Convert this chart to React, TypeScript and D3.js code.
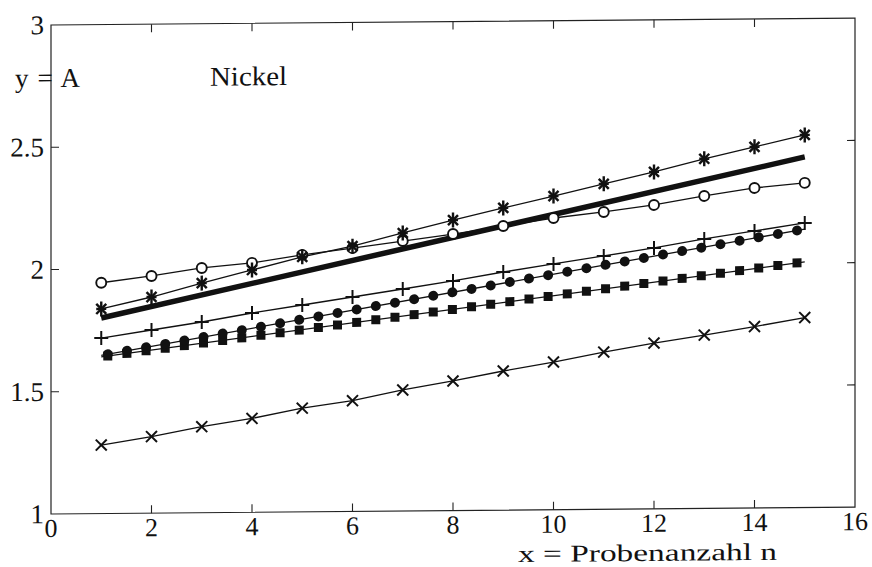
import React from "react";
import * as d3 from "d3";

// ---- data ----
const xValues = [1, 2, 3, 4, 5, 6, 7, 8, 9, 10, 11, 12, 13, 14, 15];
const asteriskValues = [1.837, 1.884, 1.939, 1.991, 2.043, 2.085, 2.137, 2.188, 2.236, 2.283, 2.331, 2.378, 2.43, 2.477, 2.524];
const openCircleValues = [1.944, 1.97, 2.001, 2.02, 2.051, 2.077, 2.104, 2.131, 2.162, 2.193, 2.216, 2.243, 2.278, 2.309, 2.328];
const plusValues = [1.718, 1.749, 1.78, 1.815, 1.846, 1.877, 1.908, 1.939, 1.974, 2.005, 2.036, 2.067, 2.102, 2.133, 2.164];
const crossValues = [1.28, 1.313, 1.352, 1.384, 1.424, 1.453, 1.495, 1.53, 1.569, 1.604, 1.643, 1.678, 1.709, 1.742, 1.777];
const fitLineX = [1, 15];
const fitLineValues = [1.8, 2.434];
const dotLineX = [1, 15];
const dotLineValues = [1.647, 2.139];
const squareLineX = [1, 15];
const squareLineValues = [1.641, 2.005];
const xTicks = [0, 2, 4, 6, 8, 10, 12, 14, 16];
const yTicks = [1, 1.5, 2, 2.5, 3];
const yTickLabels = ["1", "1.5", "2", "2.5", "3"];
const yLabel = "y = A";
const titleText = "Nickel";
const xLabel = "x = Probenanzahl n";

const W = 872;
const H = 567;
const L = 51, R = 855, T = 25, B = 514;
const FONT = "'Liberation Serif', 'Times New Roman', serif";
const INK = "#111";

export default function App() {
  const x = d3.scaleLinear().domain([0, 16]).range([L, R]);
  const y = d3.scaleLinear().domain([1, 3]).range([B, T]);
  const line = d3.line<[number, number]>().x((d) => x(d[0])).y((d) => y(d[1]));
  const pts = (xs: number[], ys: number[]) => xs.map((v, i) => [v, ys[i]] as [number, number]);

  const dotStep = 0.381; // spacing of the heavy dotted lines, in x units
  const dashFor = (xs: number[], ys: number[]) => {
    const dx = x(xs[1]) - x(xs[0]);
    const dy = y(ys[1]) - y(ys[0]);
    const factor = Math.sqrt(dx * dx + dy * dy) / dx;
    const period = (x(dotStep) - x(0)) * factor;
    const startOff = (x(1.13) - x(1)) * factor;
    return { dash: `0 ${period}`, offset: period - startOff };
  };
  const dotDash = dashFor(dotLineX, dotLineValues);
  const sqDash = dashFor(squareLineX, squareLineValues);

  const thin = { fill: "none", stroke: INK, strokeWidth: 1.3 };

  return (
    <svg width={W} height={H} style={{ position: "absolute", left: 0, top: 0, background: "#fff" }}>
      <rect width={W} height={H} fill="#fff" />
      <g transform={`translate(${L},0) skewY(-0.49) translate(${-L},0)`}>
        {/* axes box */}
        <rect x={L} y={T} width={R - L} height={B - T} fill="none" stroke="#222" strokeWidth={1.2} />
        {xTicks.slice(1, -1).map((t) => (
          <g key={"xt" + t}>
            <line x1={x(t)} x2={x(t)} y1={B} y2={B - 8} stroke="#222" strokeWidth={1.1} />
            <line x1={x(t)} x2={x(t)} y1={T} y2={T + 8} stroke="#222" strokeWidth={1.1} />
          </g>
        ))}
        {yTicks.slice(1, -1).map((t) => (
          <g key={"yt" + t}>
            <line x1={L} x2={L + 8} y1={y(t)} y2={y(t)} stroke="#222" strokeWidth={1.1} />
            <line x1={R} x2={R - 8} y1={y(t)} y2={y(t)} stroke="#222" strokeWidth={1.1} />
          </g>
        ))}
        {/* tick labels */}
        {xTicks.map((t) => (
          <text key={"xl" + t} x={x(t)} y={B + 23} textAnchor="middle" fontFamily={FONT} fontSize={26} fill={INK}>
            {String(t)}
          </text>
        ))}
        {yTicks.map((t, i) => (
          <text key={"yl" + t} x={L - 7} y={y(t) + 9} textAnchor="end" fontFamily={FONT} fontSize={27} fill={INK}>
            {yTickLabels[i]}
          </text>
        ))}
        <text x={15} y={87} fontFamily={FONT} fontSize={27} fill={INK} textLength={65} lengthAdjust="spacing">{yLabel}</text>
        <text x={210} y={87} fontFamily={FONT} fontSize={27} fill={INK} textLength={77} lengthAdjust="spacingAndGlyphs">{titleText}</text>
        <text x={518} y={B + 52} fontFamily={FONT} fontSize={24} fill={INK} textLength={259} lengthAdjust="spacingAndGlyphs">{xLabel}</text>

        {/* thin connecting lines */}
        <path d={line(pts(xValues, crossValues)) || ""} {...thin} />
        <path d={line(pts(xValues, plusValues)) || ""} {...thin} />
        <path d={line(pts(xValues, openCircleValues)) || ""} {...thin} />
        <path d={line(pts(xValues, asteriskValues)) || ""} {...thin} />
        <path d={line(pts(dotLineX, dotLineValues)) || ""} {...thin} />
        <path d={line(pts(squareLineX, squareLineValues)) || ""} {...thin} />

        {/* heavy dotted lines: squares and round dots */}
        <path
          d={line(pts(squareLineX, squareLineValues)) || ""}
          fill="none"
          stroke={INK}
          strokeWidth={9}
          strokeLinecap="square"
          strokeDasharray={sqDash.dash}
          strokeDashoffset={sqDash.offset}
        />
        <path
          d={line(pts(dotLineX, dotLineValues)) || ""}
          fill="none"
          stroke={INK}
          strokeWidth={10}
          strokeLinecap="round"
          strokeDasharray={dotDash.dash}
          strokeDashoffset={dotDash.offset}
        />

        {/* thick fit line */}
        <path d={line(pts(fitLineX, fitLineValues)) || ""} fill="none" stroke={INK} strokeWidth={5.5} />

        {/* markers */}
        {xValues.map((v, i) => (
          <circle key={"o" + i} cx={x(v)} cy={y(openCircleValues[i])} r={5} fill="#fff" stroke={INK} strokeWidth={1.9} />
        ))}
        {xValues.map((v, i) => {
          const cx = x(v), cy = y(asteriskValues[i]);
          return (
            <g key={"s" + i} stroke={INK} strokeWidth={2.4}>
              <line x1={cx} x2={cx} y1={cy - 7.5} y2={cy + 7.5} />
              <line x1={cx - 5} x2={cx + 5} y1={cy} y2={cy} />
              <line x1={cx - 5} x2={cx + 5} y1={cy - 5} y2={cy + 5} />
              <line x1={cx - 5} x2={cx + 5} y1={cy + 5} y2={cy - 5} />
            </g>
          );
        })}
        {xValues.map((v, i) => {
          const cx = x(v), cy = y(plusValues[i]);
          return (
            <g key={"p" + i} stroke={INK} strokeWidth={2}>
              <line x1={cx} x2={cx} y1={cy - 7} y2={cy + 7} />
              <line x1={cx - 7} x2={cx + 7} y1={cy} y2={cy} />
            </g>
          );
        })}
        {xValues.map((v, i) => {
          const cx = x(v), cy = y(crossValues[i]);
          return (
            <g key={"x" + i} stroke={INK} strokeWidth={2}>
              <line x1={cx - 5.5} x2={cx + 5.5} y1={cy - 5.5} y2={cy + 5.5} />
              <line x1={cx - 5.5} x2={cx + 5.5} y1={cy + 5.5} y2={cy - 5.5} />
            </g>
          );
        })}
      </g>
    </svg>
  );
}
